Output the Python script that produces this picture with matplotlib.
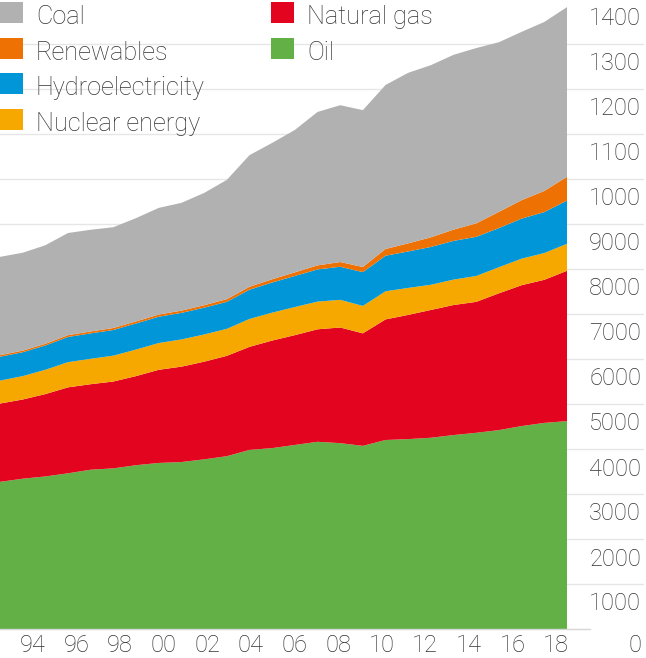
import matplotlib
matplotlib.use('Agg')
import matplotlib.pyplot as plt
from matplotlib.patches import Rectangle
from matplotlib.transforms import offset_copy, blended_transform_factory

# world primary energy consumption by fuel, million tonnes oil equivalent
years = list(range(1993, 2019))
oil = [3270, 3340, 3390, 3460, 3540, 3570, 3640, 3690, 3710, 3770, 3840, 3980, 4020,
       4090, 4160, 4130, 4070, 4200, 4220, 4250, 4310, 4360, 4420, 4510, 4580, 4620]
natural_gas = [1740, 1760, 1830, 1910, 1900, 1930, 1980, 2070, 2120, 2170, 2230, 2290, 2390,
               2440, 2500, 2570, 2500, 2680, 2760, 2840, 2890, 2910, 3040, 3130, 3180, 3340]
nuclear = [510, 520, 540, 560, 565, 575, 590, 595, 605, 605, 600, 620, 620,
           625, 615, 615, 610, 625, 600, 560, 565, 575, 580, 590, 595, 600]
hydro = [530, 530, 540, 560, 565, 570, 580, 585, 590, 595, 600, 650, 670,
         690, 715, 735, 750, 790, 810, 840, 860, 870, 870, 890, 910, 960]
renewables = [35, 36, 38, 40, 42, 44, 46, 48, 50, 55, 60, 65, 72,
              80, 90, 105, 115, 150, 180, 215, 250, 300, 360, 410, 470, 530]
coal = [2185, 2175, 2190, 2270, 2260, 2240, 2295, 2370, 2395, 2495, 2650, 2925, 3030,
        3165, 3410, 3485, 3485, 3645, 3790, 3825, 3885, 3895, 3770, 3740, 3755, 3770]

series_names = ['Oil', 'Natural gas', 'Nuclear energy', 'Hydroelectricity', 'Renewables', 'Coal']
colors = ['#63b146', '#e30520', '#f6a800', '#0096d7', '#ee7203', '#b1b1b1']

x_tick_years = list(range(1994, 2019, 2))
y_tick_values = list(range(0, 15000, 1000))
y_tick_labels = ['0', '1000', '2000', '3000', '4000', '5000', '6000', '7000', '8000',
                 '9000', '1000', '1100', '1200', '1300', '1400']

plt.rcParams['font.family'] = ['Roboto', 'DejaVu Sans']
txt_color = '#333333'
fs = 17

W, H = 646, 658
fig = plt.figure(figsize=(W / 100, H / 100), dpi=100)
ax = fig.add_axes([0, 29 / H, 567 / W, 630 / H])

ax.stackplot(years, oil, natural_gas, nuclear, hydro, renewables, coal,
             colors=colors, linewidth=0, zorder=2)
ax.set_xlim(1993, 2018)
ax.set_ylim(0, 14000)
ax.axis('off')

# grid lines running out under the labels on the right
ytr = ax.get_yaxis_transform()
for v in y_tick_values[1:]:
    ax.plot([0, 643 / 567], [v, v], transform=ytr, color='#e6e6e6', lw=1,
            zorder=0, clip_on=False)
ax.plot([0, 590 / 567], [0, 0], transform=ytr, color='#d6d6d6', lw=1,
        zorder=3, clip_on=False)

for v, lab in zip(y_tick_values, y_tick_labels):
    dy = -26.5 if v > 0 else -23
    lab_tr = offset_copy(ytr, fig=fig, y=dy, units='dots')
    ax.text(641 / 567, v, lab, transform=lab_tr, ha='right', va='baseline',
            fontsize=fs, color=txt_color, fontweight='light')

# year labels sit in the middle of each year's band
xtr = offset_copy(blended_transform_factory(ax.transData, ax.transAxes),
                  fig=fig, y=-23, units='dots')
for yr in x_tick_years:
    pos = 1993 + (yr - 1993 + 0.5) * 25 / 26
    ax.text(pos, 0, f'{yr % 100:02d}', transform=xtr, ha='center', va='baseline',
            fontsize=fs, color=txt_color, fontweight='light')

# legend, two columns at the top left
legend_items = [('Coal', colors[5], 0, 0), ('Renewables', colors[4], 0, 1),
                ('Hydroelectricity', colors[3], 0, 2), ('Nuclear energy', colors[2], 0, 3),
                ('Natural gas', colors[1], 1, 0), ('Oil', colors[0], 1, 1)]
col_x = [0, 271]
for name, c, col, row in legend_items:
    cy = 12.5 + row * 35.7
    x0 = col_x[col]
    fig.patches.append(Rectangle((x0 / W, 1 - (cy + 10.5) / H), 23 / W, 21 / H,
                                 transform=fig.transFigure, color=c, lw=0))
    fig.text((x0 + 36) / W, 1 - (cy + 11.5) / H, name, fontsize=18.2,
             color=txt_color, va='baseline', ha='left', fontweight='light')

fig.savefig('out.png', dpi=100)
